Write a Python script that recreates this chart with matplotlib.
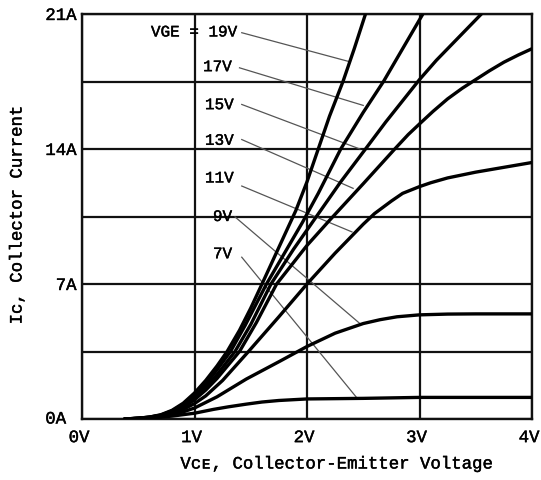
import matplotlib
matplotlib.use("Agg")
import matplotlib.pyplot as plt
import matplotlib.patheffects as pe
import matplotlib.transforms as mtransforms

# ---------------- data ----------------
vge_labels = ["VGE = 19V", "17V", "15V", "13V", "11V", "9V", "7V"]

v_19 = [0.38, 0.5, 0.6, 0.7, 0.8, 0.9, 1.0, 1.1, 1.2, 1.29, 1.4, 1.5, 1.6, 1.75, 1.9, 2.0, 2.1, 2.2, 2.32, 2.42, 2.52]
i_19 = [0, 0.04, 0.1, 0.22, 0.45, 0.82, 1.35, 2.0, 2.75, 3.5, 4.6, 5.75, 7.0, 8.9, 10.8, 12.3, 14.0, 15.7, 17.5, 19.2, 21.0]

v_17 = [0.38, 0.5, 0.6, 0.7, 0.8, 0.9, 1.0, 1.1, 1.2, 1.32, 1.45, 1.64, 1.8, 1.96, 2.1, 2.3, 2.5, 2.68, 2.85, 3.03]
i_17 = [0, 0.04, 0.1, 0.2, 0.42, 0.76, 1.2, 1.8, 2.55, 3.5, 4.85, 7.0, 8.6, 10.2, 11.7, 14.0, 15.9, 17.5, 19.2, 21.0]

v_15 = [0.38, 0.5, 0.6, 0.7, 0.8, 0.9, 1.0, 1.1, 1.2, 1.36, 1.5, 1.68, 1.88, 2.06, 2.3, 2.52, 2.7, 2.85, 3.0, 3.15, 3.3, 3.45, 3.55]
i_15 = [0, 0.04, 0.09, 0.19, 0.38, 0.68, 1.1, 1.65, 2.3, 3.5, 4.9, 7.0, 8.8, 10.3, 12.3, 14.0, 15.4, 16.5, 17.6, 18.6, 19.5, 20.4, 21.0]

v_13 = [0.38, 0.5, 0.6, 0.7, 0.8, 0.9, 1.0, 1.1, 1.2, 1.4, 1.55, 1.73, 2.0, 2.2, 2.5, 2.78, 2.9, 3.0, 3.12, 3.25, 3.38, 3.5, 3.62, 3.75, 3.88, 4.0]
i_13 = [0, 0.03, 0.08, 0.17, 0.34, 0.6, 1.0, 1.5, 2.1, 3.5, 5.0, 7.0, 9.0, 10.3, 12.2, 14.0, 14.75, 15.3, 15.95, 16.6, 17.15, 17.6, 18.05, 18.5, 18.88, 19.2]

v_11 = [0.38, 0.5, 0.6, 0.7, 0.8, 0.9, 1.0, 1.1, 1.25, 1.48, 1.75, 2.0, 2.25, 2.5, 2.6, 2.75, 2.85, 3.0, 3.1, 3.25, 3.5, 3.75, 4.0]
i_11 = [0, 0.03, 0.07, 0.15, 0.28, 0.5, 0.8, 1.2, 2.0, 3.5, 5.3, 7.0, 8.6, 10.1, 10.65, 11.3, 11.7, 12.05, 12.25, 12.5, 12.8, 13.05, 13.3]

v_9 = [0.38, 0.5, 0.6, 0.7, 0.8, 0.9, 1.0, 1.2, 1.46, 1.76, 2.0, 2.25, 2.5, 2.65, 2.8, 3.0, 3.25, 3.5, 4.0]
i_9 = [0, 0.03, 0.06, 0.12, 0.22, 0.37, 0.57, 1.15, 2.07, 3.0, 3.76, 4.45, 4.95, 5.15, 5.3, 5.4, 5.44, 5.45, 5.45]

v_7 = [0.38, 0.5, 0.6, 0.8, 1.0, 1.17, 1.3, 1.46, 1.6, 1.75, 2.0, 2.5, 3.0, 3.5, 4.0]
i_7 = [0, 0.02, 0.05, 0.15, 0.3, 0.5, 0.63, 0.77, 0.88, 0.96, 1.04, 1.07, 1.12, 1.12, 1.12]

# label anchor positions (V, A) and leader line ends
label_v = [0.613, 1.076, 1.093, 1.093, 1.093, 1.164, 1.164]
label_i = [20.07, 18.27, 16.3, 14.45, 12.5, 10.5, 8.57]
leader_start_v = [1.42, 1.40, 1.42, 1.42, 1.42, 1.36, 1.42]
leader_start_i = [20.03, 18.21, 16.31, 14.49, 12.08, 10.48, 8.39]
leader_end_v = [2.37, 2.50, 2.47, 2.41, 2.40, 2.47, 2.44]
leader_end_i = [18.54, 16.26, 14.0, 11.96, 9.70, 4.95, 1.12]

x_ticks = [0, 1, 2, 3, 4]
x_tick_labels = ["0V", "1V", "2V", "3V", "4V"]
y_ticks = [0, 7, 14, 21]
y_tick_labels = ["", "7A", "14A", "21A"]
y_minor = [3.5, 10.5, 17.5]

curves = [(v_19, i_19), (v_17, i_17), (v_15, i_15), (v_13, i_13),
          (v_11, i_11), (v_9, i_9), (v_7, i_7)]

# ---------------- plotting ----------------
FONT = ["Liberation Mono", "DejaVu Sans Mono"]
plt.rcParams["font.family"] = FONT
thick = [pe.withStroke(linewidth=0.3, foreground="black")]

fig = plt.figure(figsize=(5.41, 4.81), dpi=100)
ax = fig.add_axes([82 / 541, 61 / 481, 450 / 541, 405 / 481])

ax.set_xlim(0, 4)
ax.set_ylim(0, 21)

ax.set_xticks(x_ticks)
ax.set_xticklabels(x_tick_labels)
ax.set_yticks(y_ticks)
ax.set_yticklabels(y_tick_labels)
ax.set_yticks(y_minor, minor=True)
ax.tick_params(which="both", length=0)
ax.tick_params(axis="x", pad=8, labelsize=12.5)
ax.tick_params(axis="y", pad=4, labelsize=12.5)
shift = mtransforms.ScaledTranslation(-3 / 100, 0, fig.dpi_scale_trans)
for t in ax.get_xticklabels():
    t.set_transform(t.get_transform() + shift)
for t in ax.get_xticklabels() + ax.get_yticklabels():
    t.set_path_effects(thick)
ax.grid(True, which="both", color="#111111", linewidth=1.6)
ax.set_axisbelow(True)
for s in ax.spines.values():
    s.set_color("#111111")
    s.set_linewidth(1.7)

ax.text(-0.142, 0, "0A", ha="right", va="center", fontsize=12.5, clip_on=False,
        path_effects=thick)

for (v, i) in curves:
    ax.plot(v, i, color="black", linewidth=2.4, solid_capstyle="round",
            solid_joinstyle="round", zorder=3)

for k, lab in enumerate(vge_labels):
    ax.text(label_v[k], label_i[k], lab, ha="left", va="center", fontsize=11.5,
            zorder=4, path_effects=thick)
    ax.plot([leader_start_v[k], leader_end_v[k]], [leader_start_i[k], leader_end_i[k]],
            color="#555555", linewidth=0.9, zorder=2.5)

fig.text(336 / 541, (481 - 465) / 481, "Vᴄᴇ, Collector-Emitter Voltage",
         ha="center", va="center", fontsize=12.5, path_effects=thick)
fig.text(17 / 541, (481 - 216.5) / 481, "Iᴄ, Collector Current",
         ha="center", va="center", rotation=90, fontsize=12.5, path_effects=thick)

fig.savefig("out.png", dpi=100, facecolor="white")
